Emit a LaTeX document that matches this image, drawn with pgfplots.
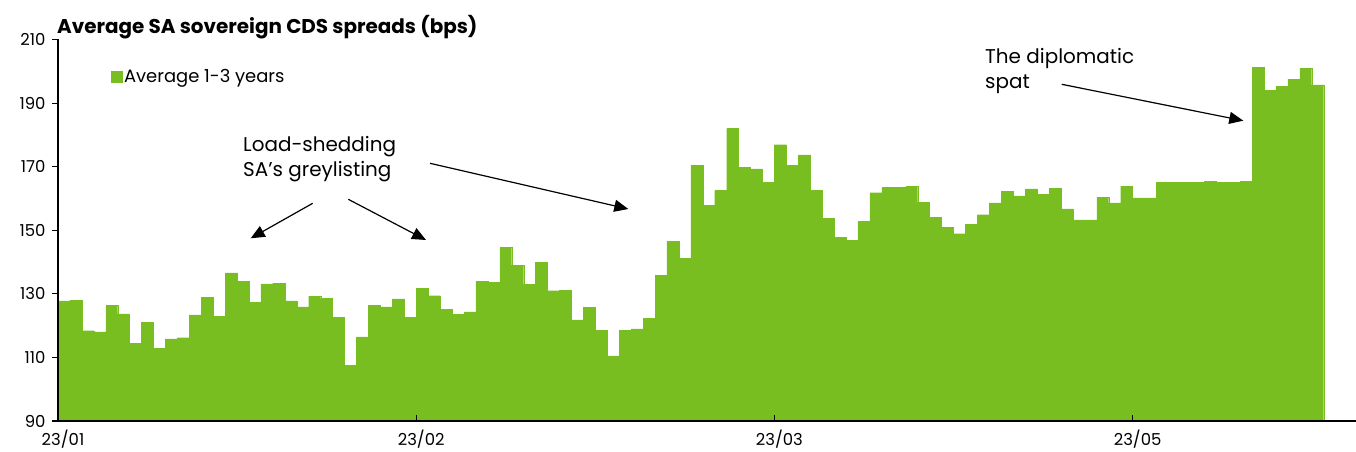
\documentclass[border=0pt]{standalone}
\usepackage{fontspec}
\setmainfont{Poppins}
\usepackage{pgfplots}
\pgfplotsset{compat=1.18}
\usetikzlibrary{arrows.meta}
\definecolor{cdsgreen}{RGB}{120,190,33}
\begin{document}
\begin{tikzpicture}
\useasboundingbox (0,0) rectangle (1356bp,452bp);
\begin{axis}[
  at={(58bp,31bp)}, anchor=south west,
  scale only axis, width=1298bp, height=381.5bp,
  xmin=0, xmax=108.71, ymin=90, ymax=210,
  axis on top,
  axis lines=left, axis line style={-, line width=1.3bp, black},
  xtick={0,30,60,90}, xticklabels={23/01,23/02,23/03,23/05},
  ytick={90,110,...,210},
  tick align=inside, major tick length=6bp,
  tick style={black, line width=1.1bp},
  ytick style={xshift=-6bp},
  /pgf/number format/assume math mode=true,
  ticklabel style={font=\fontsize{16.5}{19}\selectfont},
  yticklabel style={xshift=-9bp},
  xticklabel style={yshift=-5bp, xshift=5bp},
  legend style={at={(0.0405,0.902)}, anchor=west, draw=none, fill=none, inner sep=0pt,
    font=\fontsize{18}{21}\selectfont, nodes={inner sep=2bp}},
  legend image code/.code={\fill[cdsgreen] (0bp,-5.5bp) rectangle (11bp,5.5bp);},
  clip=true,
]
\addplot[ybar, bar width=1, bar shift=0, fill=cdsgreen, draw=cdsgreen, line width=0.3bp] coordinates {
(0.5,127.8) (1.5,128.0) (2.5,118.4) (3.5,118.0) (4.5,126.3) (5.5,123.7) (6.5,114.4) (7.5,121.1)
(8.5,112.9) (9.5,115.8) (10.5,116.2) (11.5,123.4) (12.5,128.8) (13.5,122.9) (14.5,136.6) (15.5,134.0)
(16.5,127.4) (17.5,133.1) (18.5,133.4) (19.5,127.8) (20.5,125.9) (21.5,129.3) (22.5,128.5) (23.5,122.6)
(24.5,107.5) (25.5,116.5) (26.5,126.3) (27.5,125.9) (28.5,128.4) (29.5,122.6) (30.5,131.7) (31.5,129.4)
(32.5,125.1) (33.5,123.6) (34.5,124.3) (35.5,133.9) (36.5,133.7) (37.5,144.6) (38.5,139.0) (39.5,133.0)
(40.5,139.9) (41.5,131.0) (42.5,131.2) (43.5,121.8) (44.5,125.8) (45.5,118.6) (46.5,110.5) (47.5,118.6)
(48.5,119.0) (49.5,122.2) (50.5,135.9) (51.5,146.5) (52.5,141.2) (53.5,170.5) (54.5,157.9) (55.5,162.5)
(56.5,182.0) (57.5,169.8) (58.5,169.3) (59.5,165.1) (60.5,176.9) (61.5,170.4) (62.5,173.7) (63.5,162.5)
(64.5,153.8) (65.5,147.8) (66.5,146.9) (67.5,152.8) (68.5,161.8) (69.5,163.4) (70.5,163.6) (71.5,163.8)
(72.5,158.8) (73.5,154.1) (74.5,151.0) (75.5,148.9) (76.5,151.9) (77.5,154.9) (78.5,158.6) (79.5,162.3)
(80.5,160.8) (81.5,163.0) (82.5,161.4) (83.5,163.2) (84.5,156.7) (85.5,153.3) (86.5,153.3) (87.5,160.4)
(88.5,158.6) (89.5,163.9) (90.5,160.2) (91.5,160.2) (92.5,165.1) (93.5,165.1) (94.5,165.1) (95.5,165.1)
(96.5,165.3) (97.5,165.1) (98.5,165.1) (99.5,165.3) (100.5,201.2) (101.5,194.0) (102.5,195.2) (103.5,197.5)
(104.5,201.0) (105.5,195.7)
};
\addlegendentry{Average 1-3 years}
\end{axis}
\node[anchor=base west, inner sep=0pt, font=\bfseries\fontsize{20}{24}\selectfont] at (57bp,418bp) {Average SA sovereign CDS spreads (bps)};
\begin{scope}[font=\fontsize{20}{24}\selectfont]
\node[anchor=base west, inner sep=0pt] at (243bp,300.3bp) {Load-shedding};
\node[anchor=base west, inner sep=0pt] at (243bp,275.3bp) {SA’s greylisting};
\node[anchor=base west, inner sep=0pt] at (985bp,388.7bp) {The diplomatic};
\node[anchor=base west, inner sep=0pt] at (985bp,363.7bp) {spat};
\end{scope}
\begin{scope}[line width=1.2bp, -{Triangle[length=14bp, width=12bp]}]
\draw (312.7bp,248.7bp) -- (250.7bp,213.7bp);
\draw (348.3bp,252.7bp) -- (426bp,212bp);
\draw (430bp,288.7bp) -- (628.3bp,243bp);
\draw (1061.7bp,367.7bp) -- (1243.3bp,331.3bp);
\end{scope}
\end{tikzpicture}
\end{document}
